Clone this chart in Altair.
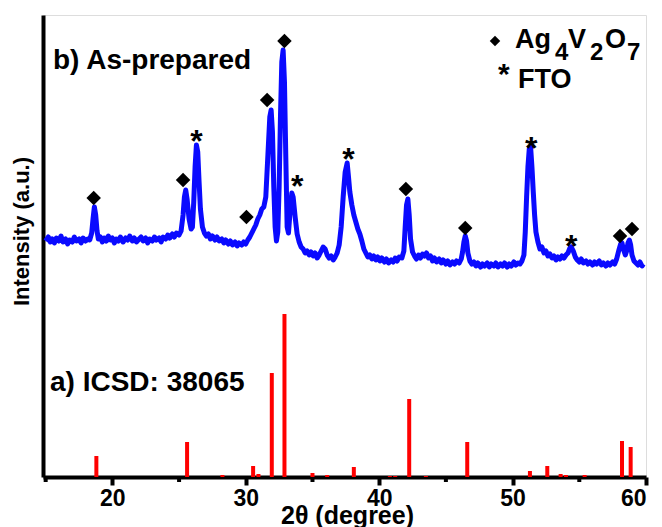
import altair as alt
import pandas as pd

# Blue XRD pattern (As-prepared): (2theta, intensity in plot units)
blue_pts = [
    (15.0, 236), (15.2, 240), (15.35, 235), (15.5, 238), (15.65, 234), (15.8, 239), (16.0, 236),
    (16.15, 241), (16.3, 235), (16.5, 238), (16.65, 233), (16.8, 237), (17.0, 235), (17.15, 240),
    (17.3, 236), (17.5, 238), (17.65, 234), (17.8, 239), (18.0, 236), (18.15, 238), (18.3, 237),
    (18.45, 244), (18.55, 258), (18.65, 270), (18.75, 262), (18.85, 246), (18.95, 238), (19.1, 240),
    (19.25, 235), (19.4, 239), (19.55, 236), (19.7, 241), (19.85, 237), (20.0, 239), (20.15, 234),
    (20.3, 238), (20.45, 236), (20.6, 240), (20.8, 235), (21.0, 239), (21.15, 237), (21.3, 241),
    (21.5, 236), (21.65, 239), (21.8, 235), (22.0, 238), (22.15, 240), (22.3, 236), (22.5, 239),
    (22.65, 234), (22.8, 238), (23.0, 236), (23.15, 240), (23.3, 237), (23.5, 239), (23.65, 235),
    (23.8, 240), (24.0, 238), (24.15, 242), (24.3, 239), (24.5, 243), (24.65, 240), (24.8, 244),
    (25.0, 242), (25.15, 246), (25.3, 262), (25.4, 280), (25.5, 287), (25.6, 278), (25.75, 258),
    (25.9, 248), (26.0, 250), (26.1, 275), (26.2, 310), (26.3, 332), (26.4, 325), (26.5, 295),
    (26.6, 268), (26.75, 250), (26.9, 244), (27.05, 241), (27.2, 243), (27.35, 238), (27.5, 241),
    (27.7, 237), (27.85, 240), (28.0, 236), (28.2, 238), (28.35, 234), (28.5, 237), (28.7, 233),
    (28.85, 236), (29.0, 232), (29.2, 235), (29.35, 231), (29.5, 234), (29.7, 232), (29.85, 235),
    (30.0, 233), (30.15, 237), (30.3, 240), (30.45, 244), (30.6, 248), (30.75, 252), (30.9, 258),
    (31.05, 262), (31.2, 268), (31.35, 270), (31.5, 280), (31.65, 320), (31.8, 360), (31.9, 367),
    (32.0, 345), (32.1, 290), (32.2, 250), (32.3, 236), (32.4, 245), (32.5, 290), (32.6, 360),
    (32.7, 415), (32.8, 427), (32.9, 395), (33.0, 320), (33.1, 250), (33.2, 244), (33.3, 262),
    (33.45, 284), (33.55, 280), (33.7, 260), (33.85, 243), (34.0, 235), (34.15, 230), (34.3, 228),
    (34.45, 224), (34.6, 226), (34.75, 222), (34.9, 225), (35.05, 221), (35.2, 224), (35.35, 219),
    (35.5, 222), (35.65, 226), (35.8, 230), (35.95, 228), (36.1, 222), (36.25, 219), (36.4, 221),
    (36.55, 217), (36.7, 220), (36.85, 224), (37.0, 232), (37.15, 250), (37.3, 280), (37.45, 305),
    (37.6, 314), (37.7, 300), (37.8, 285), (37.95, 272), (38.1, 262), (38.25, 255), (38.4, 248),
    (38.55, 243), (38.7, 236), (38.85, 228), (39.0, 224), (39.15, 220), (39.3, 222), (39.45, 218),
    (39.6, 221), (39.75, 217), (39.9, 220), (40.05, 216), (40.2, 219), (40.4, 215), (40.55, 218),
    (40.7, 214), (40.9, 217), (41.05, 215), (41.2, 219), (41.35, 216), (41.5, 220), (41.7, 219),
    (41.85, 226), (41.95, 250), (42.05, 272), (42.15, 278), (42.25, 262), (42.35, 238), (42.5, 225),
    (42.65, 221), (42.8, 218), (42.95, 222), (43.1, 219), (43.25, 223), (43.4, 221), (43.55, 224),
    (43.7, 219), (43.85, 221), (44.0, 216), (44.15, 219), (44.3, 215), (44.5, 218), (44.65, 214),
    (44.8, 217), (45.0, 213), (45.15, 216), (45.3, 212), (45.5, 215), (45.65, 213), (45.8, 216),
    (46.0, 214), (46.15, 218), (46.25, 225), (46.35, 235), (46.45, 241), (46.55, 236), (46.65, 224),
    (46.8, 216), (46.95, 213), (47.1, 215), (47.25, 211), (47.4, 214), (47.6, 210), (47.75, 213),
    (47.9, 211), (48.1, 214), (48.25, 210), (48.4, 213), (48.6, 211), (48.75, 214), (48.9, 210),
    (49.1, 213), (49.25, 211), (49.4, 214), (49.6, 210), (49.75, 213), (49.9, 211), (50.1, 215),
    (50.25, 212), (50.4, 214), (50.55, 213), (50.7, 216), (50.85, 222), (50.95, 245), (51.05, 280),
    (51.15, 310), (51.25, 328), (51.35, 330), (51.45, 310), (51.55, 285), (51.65, 262), (51.75, 245),
    (51.9, 235), (52.05, 228), (52.2, 230), (52.35, 224), (52.5, 226), (52.65, 221), (52.8, 223),
    (52.95, 219), (53.1, 221), (53.25, 217), (53.4, 220), (53.55, 218), (53.7, 221), (53.85, 219),
    (54.0, 222), (54.15, 224), (54.3, 229), (54.4, 230), (54.55, 226), (54.7, 220), (54.85, 217),
    (55.0, 215), (55.15, 218), (55.3, 214), (55.5, 216), (55.65, 213), (55.8, 215), (56.0, 212),
    (56.15, 215), (56.3, 213), (56.5, 216), (56.65, 212), (56.8, 214), (57.0, 211), (57.15, 214),
    (57.3, 212), (57.5, 215), (57.65, 213), (57.8, 218), (57.95, 226), (58.1, 233), (58.2, 234),
    (58.3, 228), (58.45, 222), (58.55, 226), (58.65, 234), (58.75, 237), (58.85, 232), (58.95, 222),
    (59.1, 216), (59.25, 214), (59.4, 212), (59.55, 215), (59.7, 211), (59.8, 213),
]

# ICSD 38065 reference sticks
icsd_pos = [18.8, 25.6, 28.25, 30.55, 30.95, 31.95, 32.9, 35.0, 36.1, 38.1, 40.8, 41.2,
            42.25, 43.5, 46.6, 51.3, 52.6, 53.6, 54.0, 55.4, 58.2, 58.85]
icsd_int = [21, 35, 2, 11, 3, 104, 163, 4, 2, 10, 1, 1,
            78, 1, 35, 6, 11, 3, 2, 2, 36, 30]

# Peak markers
diamond_x = [18.6, 25.3, 30.05, 31.6, 32.9, 42.0, 46.45, 58.05, 58.95]
diamond_y = [279, 297, 260, 377, 436, 288, 249, 241, 248]
star_x = [26.3, 33.85, 37.7, 51.4, 54.4]
star_y = [344, 299, 326, 337, 239]

major_ticks = [20, 30, 40, 50, 60]
minor_ticks = [15, 25, 35, 45, 55]

FONT = "Liberation Sans"
W, H = 603, 462

xs = alt.Scale(domain=[14.8, 60], nice=False, zero=False)
ys = alt.Scale(domain=[0, H], nice=False, zero=True)

x_axis = alt.Axis(values=major_ticks, format="d", title="2θ (degree)", grid=False,
                  domainWidth=4, domainColor="black", tickWidth=4, tickSize=8, tickColor="black",
                  labelFont=FONT, labelFontSize=23, labelFontWeight="bold", labelColor="black",
                  labelPadding=2, titleFont=FONT, titleFontSize=25, titleFontWeight="bold",
                  titleColor="black", titleX=304, titleY=46, titleAlign="center",
                  titleBaseline="alphabetic")
y_axis = alt.Axis(title="Intensity (a.u.)", grid=False, ticks=False, labels=False,
                  domainWidth=4, domainColor="black",
                  titleFont=FONT, titleFontSize=22, titleFontWeight="bold", titleColor="black",
                  titleAngle=270, titleX=-15, titleY=216, titleAlign="center",
                  titleBaseline="alphabetic")

def X(field="x"):
    return alt.X(f"{field}:Q", scale=xs, axis=x_axis)

def Y(field="y"):
    return alt.Y(f"{field}:Q", scale=ys, axis=y_axis)

df_blue = pd.DataFrame(blue_pts, columns=["x", "y"])
df_icsd = pd.DataFrame({"x": icsd_pos, "y": icsd_int, "y0": [0] * len(icsd_pos)})
df_dia = pd.DataFrame({"x": diamond_x, "y": diamond_y})
df_star = pd.DataFrame({"x": star_x, "y": star_y})
df_minor = pd.DataFrame({"x": minor_ticks})

bars = alt.Chart(df_icsd).mark_rule(color="#ff0000", strokeWidth=4, strokeCap="butt").encode(
    x=X(), y=Y("y0"), y2="y:Q")

line = alt.Chart(df_blue).mark_line(color="#0a0aff", strokeWidth=5, strokeJoin="round").encode(
    x=X(), y=Y())

dia = alt.Chart(df_dia).mark_point(shape="diamond", filled=True, color="black", size=210,
                                   opacity=1).encode(x=X(), y=Y())

stars = alt.Chart(df_star).mark_text(text="*", font=FONT, fontSize=32, fontWeight="bold",
                                      color="black", baseline="middle", dy=9).encode(x=X(), y=Y())

minor = alt.Chart(df_minor).mark_rule(color="black", strokeWidth=4).encode(
    x=X(), y=alt.value(H), y2=alt.value(H + 5))

# Text annotations (pixel positions inside the plot area)
ann_text = ["b) As-prepared", "a) ICSD: 38065", "Ag", "4", "V", "2", "O", "7", "*", "FTO"]
ann_px = [10, 7, 472, 512, 525, 547, 562, 584, 455, 475]
ann_py = [54, 376, 33, 45, 33, 45, 33, 45, 69, 73]
ann_fs = [28, 28, 27, 24, 27, 24, 27, 24, 30, 27]
df_ann = pd.DataFrame({"t": ann_text, "px": ann_px, "py": ann_py, "fs": ann_fs})

ann = alt.Chart(df_ann).mark_text(font=FONT, fontWeight="bold", color="black", align="left",
                                   baseline="alphabetic").encode(
    x=alt.X("px:Q", scale=None), y=alt.Y("py:Q", scale=None),
    text="t:N", size=alt.Size("fs:Q", scale=None))

leg_dia = alt.Chart(pd.DataFrame({"px": [452], "py": [26]})).mark_point(
    shape="diamond", filled=True, color="black", size=110, opacity=1).encode(
    x=alt.X("px:Q", scale=None), y=alt.Y("py:Q", scale=None))

chart = alt.layer(bars, line, dia, stars, minor, ann, leg_dia).properties(
    width=W, height=H, autosize="none",
    padding={"left": 43, "top": 15, "right": 16, "bottom": 50},
).configure_view(stroke="black", strokeWidth=4).configure(background="white")

chart.save("out.html", embed_options={"renderer": "svg", "actions": False})
